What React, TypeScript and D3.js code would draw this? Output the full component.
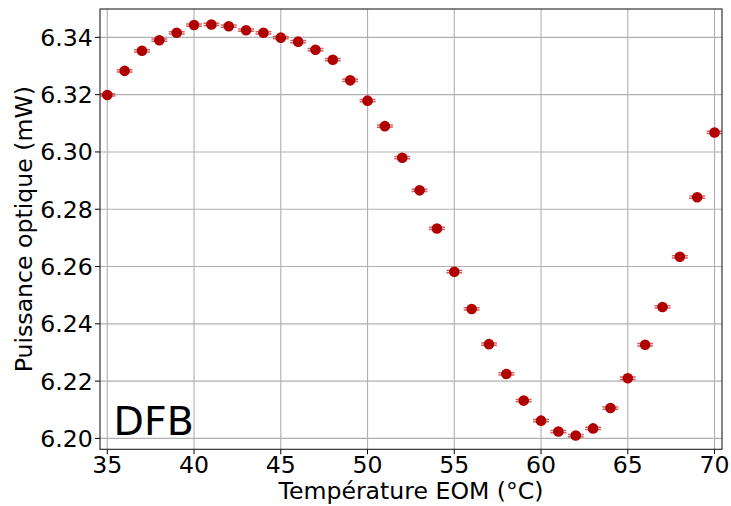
import React from "react";
import * as d3 from "d3";

const temperatures = [35,36,37,38,39,40,41,42,43,44,45,46,47,48,49,50,51,52,53,54,55,56,57,58,59,60,61,62,63,64,65,66,67,68,69,70];
const powers = [6.3199,6.3283,6.3353,6.3390,6.3416,6.3443,6.3445,6.3439,6.3425,6.3416,6.3399,6.3385,6.3357,6.3322,6.3250,6.3179,6.3090,6.2980,6.2866,6.2733,6.2582,6.2452,6.2329,6.2225,6.2132,6.2062,6.2024,6.2010,6.2035,6.2106,6.2210,6.2327,6.2459,6.2634,6.2842,6.3068];
const powerErr = 0.0004;
const xTicks = [35,40,45,50,55,60,65,70];
const yTicks = [6.20,6.22,6.24,6.26,6.28,6.30,6.32,6.34];

const W = 731, H = 506;
const M = { left: 100, top: 9, right: 722, bottom: 449.3 };
const FONT = "DejaVu Sans, sans-serif";
const FS = 23.6;

export default function App() {
  const x = d3.scaleLinear().domain([34.58, 70.43]).range([M.left, M.right]);
  const y = d3.scaleLinear().domain([6.1962, 6.3499]).range([M.bottom, M.top]);
  const red = "#b00000";
  return (
    <svg width={W} height={H} style={{ position: "absolute", left: 0, top: 0 }}>
      <rect width={W} height={H} fill="#fff" />
      <defs>
        <clipPath id="plot">
          <rect x={M.left} y={M.top} width={M.right - M.left} height={M.bottom - M.top} />
        </clipPath>
      </defs>
      {xTicks.map((t) => (
        <g key={"x" + t}>
          <line x1={x(t)} x2={x(t)} y1={M.top} y2={M.bottom} stroke="#b0b0b0" strokeWidth={1.1} />
          <line x1={x(t)} x2={x(t)} y1={M.bottom} y2={M.bottom + 5} stroke="#000" strokeWidth={1} />
          <text x={x(t)} y={473} textAnchor="middle" fontFamily={FONT} fontSize={FS} fill="#000">{t}</text>
        </g>
      ))}
      {yTicks.map((t) => (
        <g key={"y" + t}>
          <line x1={M.left} x2={M.right} y1={y(t)} y2={y(t)} stroke="#b0b0b0" strokeWidth={1.1} />
          <line x1={M.left - 5} x2={M.left} y1={y(t)} y2={y(t)} stroke="#000" strokeWidth={1} />
          <text x={92.7} y={y(t)} dy="0.36em" textAnchor="end" fontFamily={FONT} fontSize={FS} fill="#000">{t.toFixed(2)}</text>
        </g>
      ))}
      <g clipPath="url(#plot)">
        {temperatures.map((t, i) => {
          const cx = x(t), cy = y(powers[i]);
          const yTop = y(powers[i] + powerErr), yBot = y(powers[i] - powerErr);
          return (
            <g key={"p" + t}>
              <line x1={cx} x2={cx} y1={yTop} y2={yBot} stroke={red} strokeWidth={1} />
              <line x1={cx - 8} x2={cx + 8} y1={yTop} y2={yTop} stroke={red} strokeOpacity={0.6} strokeWidth={1.5} />
              <line x1={cx - 8} x2={cx + 8} y1={yBot} y2={yBot} stroke={red} strokeOpacity={0.6} strokeWidth={1.5} />
              <circle cx={cx} cy={cy} r={5.3} fill={red} />
            </g>
          );
        })}
      </g>
      <rect x={M.left} y={M.top} width={M.right - M.left} height={M.bottom - M.top} fill="none" stroke="#222" strokeWidth={1.1} />
      <text x={113.5} y={435} fontFamily={FONT} fontSize={39.5} fill="#000">DFB</text>
      <text x={(M.left + M.right) / 2} y={498.5} textAnchor="middle" fontFamily={FONT} fontSize={FS} fill="#000">Température EOM (°C)</text>
      <text transform={`translate(32, ${(M.top + M.bottom) / 2}) rotate(-90)`} textAnchor="middle" fontFamily={FONT} fontSize={FS} fill="#000">Puissance optique (mW)</text>
    </svg>
  );
}
